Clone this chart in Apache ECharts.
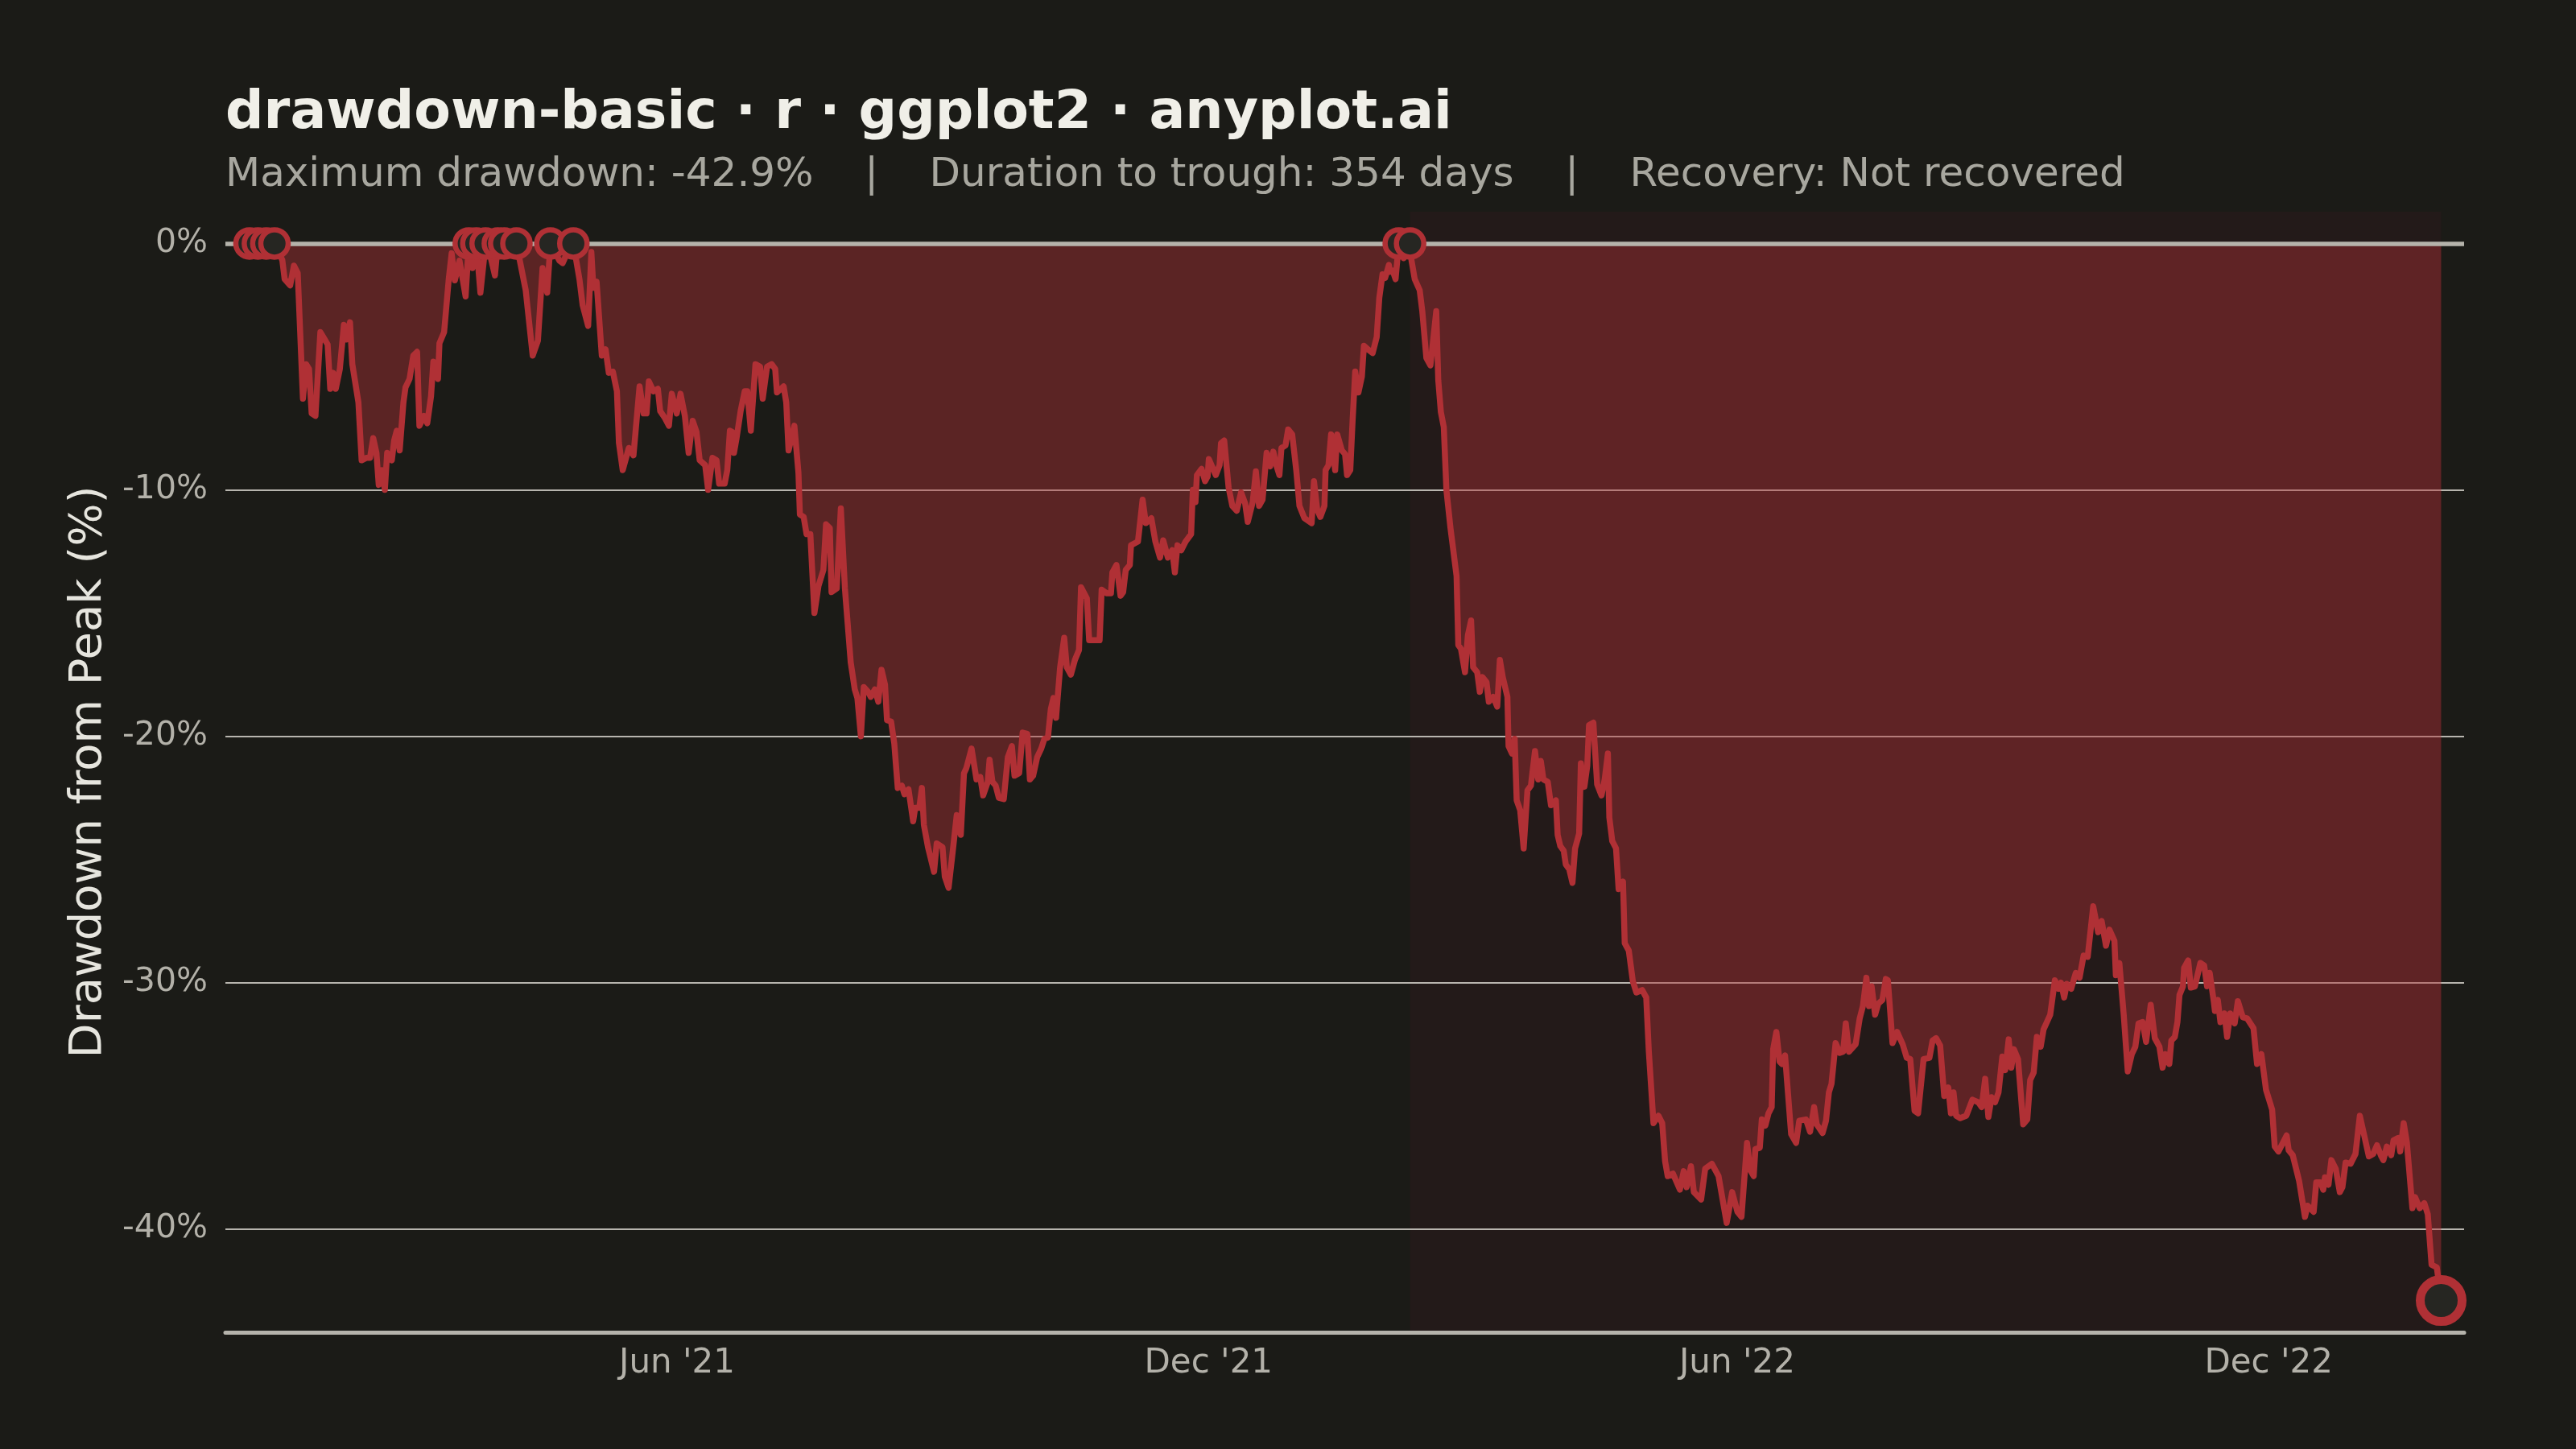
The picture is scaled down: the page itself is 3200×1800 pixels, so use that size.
<!DOCTYPE html>
<html>
<head>
<meta charset="utf-8">
<script src="https://cdn.jsdelivr.net/npm/echarts@6/dist/echarts.min.js"></script>
<style>
  html, body { margin: 0; padding: 0; background: #1b1b17; }
  #main { width: 3200px; height: 1800px; }
</style>
</head>
<body>
<div id="main"></div>
<script>
// days since 2021-01-04
var dayOffset = [
  0.8, 3.7, 6.6, 9.4, 12.1, 12.9, 14.8, 16.1, 17.4, 19.2,
  20.3, 21.3, 22.2, 23.5, 25.2, 26.7, 27.7, 28.6, 29.6, 30.5,
  31.9, 33.3, 34.2, 35.4, 36.2, 38.3, 39.4, 41.1, 42.3, 43.4,
  44.5, 45.3, 46.4, 47.4, 48.2, 49.8, 50.6, 51.5, 52.5, 53.8,
  54.5, 55.9, 57.2, 58.5, 59.3, 60.9, 62.0, 63.3, 64.1, 65.7,
  66.2, 67.8, 69.4, 70.4, 71.5, 73.1, 75.2, 76.3, 77.6, 78.9,
  80.3, 82.1, 83.9, 85.3, 86.3, 87.4, 88.5, 90.6, 92.7, 95.9,
  98.3, 100.1, 101.7, 103.3, 104.4, 107.5, 108.6, 110.5, 112.3, 114.4,
  115.5, 117.4, 118.5, 119.2, 120.3, 122.1, 123.4, 124.5, 125.9, 127.3,
  128.0, 129.3, 131.4, 133.0, 135.1, 136.5, 137.5, 138.3, 139.9, 141.4,
  142.2, 143.9, 145.2, 146.2, 147.9, 149.2, 150.7, 152.0, 153.4, 154.7,
  155.8, 157.7, 158.7, 160.2, 161.6, 162.5, 164.4, 165.3, 166.2, 167.0,
  167.6, 168.5, 169.9, 171.3, 172.2, 173.4, 175.0, 176.6, 177.5, 179.0,
  180.6, 181.8, 182.4, 184.7, 185.6, 186.4, 188.4, 189.8, 190.3, 191.6,
  192.6, 193.9, 195.3, 196.7, 198.4, 199.3, 200.6, 201.2, 203.0, 204.4,
  205.8, 207.8, 209.2, 210.1, 211.3, 212.3, 213.8, 214.7, 216.1, 217.3,
  218.4, 219.6, 220.3, 221.7, 222.8, 224.0, 225.4, 226.3, 227.7, 229.3,
  230.0, 231.4, 232.3, 233.0, 234.4, 236.5, 237.4, 239.4, 240.2, 241.5,
  242.9, 244.3, 245.7, 246.8, 247.6, 249.4, 251.1, 252.4, 253.4, 255.0,
  255.6, 256.6, 257.7, 258.8, 260.5, 261.9, 263.3, 264.2, 265.8, 267.0,
  268.6, 269.5, 270.6, 272.0, 273.4, 274.5, 275.7, 276.7, 277.6, 278.5,
  279.9, 281.3, 282.2, 283.6, 285.0, 286.4, 287.1, 289.1, 289.9, 291.9,
  293.5, 294.2, 296.0, 297.4, 297.9, 299.3, 300.7, 301.6, 302.5, 303.9,
  304.3, 306.7, 308.3, 309.4, 311.3, 312.7, 314.3, 315.4, 317.0, 318.5,
  319.4, 320.3, 321.6, 323.1, 325.0, 325.6, 326.5, 327.0, 328.6, 329.8,
  330.7, 331.1, 333.5, 334.8, 335.3, 336.4, 337.9, 339.2, 340.7, 342.2,
  343.6, 344.5, 346.2, 347.3, 348.4, 349.6, 351.0, 352.2, 353.3, 354.2,
  355.4, 356.1, 357.5, 358.4, 359.8, 361.2, 362.3, 364.0, 366.5, 367.3,
  368.4, 369.5, 370.9, 371.3, 372.3, 373.2, 374.6, 375.3, 376.9, 378.0,
  378.7, 379.8, 380.6, 381.5, 382.6, 383.8, 384.5, 385.9, 387.5, 388.9,
  389.8, 390.9, 391.8, 393.1, 393.5, 394.4, 395.4, 396.5, 398.2, 400.4,
  400.9, 402.0, 403.7, 404.6, 406.0, 407.4, 408.1, 409.4, 410.1, 411.0,
  412.0, 412.9, 414.3, 416.4, 417.0, 417.9, 419.3, 420.3, 421.4, 422.1,
  423.5, 424.4, 425.3, 426.7, 427.5, 429.0, 430.4, 431.3, 432.3, 433.9,
  434.3, 435.5, 436.4, 437.1, 438.3, 439.5, 440.8, 442.0, 443.4, 444.5,
  445.4, 446.3, 447.8, 448.9, 450.6, 451.2, 452.1, 453.3, 454.0, 455.2,
  456.3, 457.2, 458.6, 459.2, 460.4, 461.4, 462.0, 463.5, 464.8, 466.3,
  467.4, 468.5, 469.0, 470.0, 471.3, 472.2, 473.7, 474.3, 475.7, 477.1,
  478.3, 480.3, 481.7, 482.6, 484.2, 485.9, 487.2, 488.2, 489.1, 490.9,
  493.3, 494.6, 495.6, 497.1, 498.1, 500.6, 502.0, 504.3, 506.6, 508.0,
  509.4, 511.3, 513.1, 514.5, 516.4, 517.5, 518.7, 519.3, 520.8, 521.5,
  522.7, 523.8, 524.9, 525.4, 526.5, 527.6, 528.4, 529.5, 531.6, 533.3,
  534.4, 536.7, 538.1, 539.5, 540.4, 542.4, 543.6, 544.6, 545.5, 546.9,
  548.3, 549.5, 550.4, 551.5, 553.8, 555.2, 556.3, 557.5, 558.4, 559.3,
  560.5, 561.6, 563.0, 564.2, 564.9, 566.5, 568.1, 570.0, 571.4, 572.6,
  574.1, 575.3, 577.2, 579.2, 580.3, 581.5, 582.9, 584.3, 585.7, 586.6,
  587.5, 588.4, 589.8, 591.9, 594.0, 596.0, 597.2, 598.4, 599.5, 600.6,
  601.8, 603.0, 604.3, 605.3, 606.5, 607.4, 608.3, 609.7, 611.5, 612.9,
  613.9, 615.1, 616.2, 617.5, 618.5, 620.8, 622.4, 623.7, 624.5, 625.6,
  626.5, 628.0, 629.6, 630.9, 632.3, 633.7, 635.6, 637.3, 638.5, 640.0,
  641.2, 642.9, 643.4, 644.6, 646.1, 647.5, 648.9, 650.1, 651.2, 652.6,
  653.8, 655.4, 656.8, 658.4, 659.5, 660.4, 661.8, 662.5, 663.7, 664.6,
  665.3, 666.5, 666.9, 668.3, 669.2, 670.6, 672.5, 673.8, 674.8, 675.7,
  677.1, 677.5, 678.5, 679.4, 680.8, 681.7, 682.8, 684.3, 685.4, 687.1,
  688.6, 690.8, 692.0, 693.5, 695.1, 697.2, 698.1, 699.4, 702.2, 702.9,
  704.3, 706.5, 708.5, 709.4, 711.5, 712.4, 713.9, 714.8, 715.4, 716.6,
  717.6, 719.1, 720.5, 721.4, 722.5, 724.2, 725.9, 727.4, 729.0, 730.5,
  732.0, 733.3, 734.8, 735.5, 736.7, 738.2, 739.0, 740.6, 741.3, 742.5,
  743.6, 745.5, 746.4, 748.0, 749.6, 750.8, 752.1, 753.9, 755.4
];

// drawdown from running peak, %
var drawdownPct = [
  0, 0, 0, 0, -0.68, -1.45, -1.7, -0.9, -1.2, -6.3,
  -4.9, -5.1, -6.9, -7.0, -3.6, -3.9, -4.1, -5.9, -5.25, -5.9,
  -5.1, -3.3, -3.9, -3.2, -4.9, -6.45, -8.8, -8.7, -8.7, -7.9,
  -8.5, -9.8, -9.2, -10.0, -8.5, -8.8, -8.0, -7.6, -8.4, -6.45,
  -5.85, -5.5, -4.55, -4.4, -7.4, -7.0, -7.3, -6.2, -4.8, -5.5,
  -4.05, -3.6, -1.45, -0.4, -1.5, -0.7, -2.15, 0, -1.0, 0,
  -2.0, 0, -0.6, -1.3, 0, -0.5, 0, -0.4, 0, -1.9,
  -4.55, -3.95, -1.0, -2.0, 0, -0.7, -0.8, -0.3, 0, -1.45,
  -2.5, -3.35, -0.35, -1.8, -1.55, -4.55, -4.3, -5.25, -5.2, -6.0,
  -8.1, -9.2, -8.3, -8.6, -5.8, -6.9, -6.9, -5.6, -6.0, -5.9,
  -6.8, -7.1, -7.4, -6.1, -6.9, -6.1, -7.0, -8.5, -7.2, -7.65,
  -8.8, -9.0, -10.0, -8.7, -8.8, -9.75, -9.75, -9.2, -7.6, -7.65,
  -8.5, -7.9, -6.8, -6.0, -6.0, -7.6, -4.9, -5.0, -6.3, -5.0,
  -4.9, -5.1, -6.05, -5.8, -6.45, -8.4, -7.4, -9.3, -11.0, -11.1,
  -11.8, -11.8, -15.0, -13.9, -13.25, -11.4, -11.55, -14.15, -14.0, -10.75,
  -14.0, -17.0, -18.1, -18.45, -20.0, -18.0, -18.2, -18.4, -18.1, -18.6,
  -17.3, -17.9, -19.35, -19.4, -20.3, -22.1, -22.0, -22.35, -22.15, -23.45,
  -22.9, -22.9, -22.1, -23.6, -24.5, -25.5, -24.35, -24.5, -25.7, -26.15,
  -24.7, -23.2, -24.0, -21.5, -21.3, -20.5, -21.75, -21.65, -22.4, -21.85,
  -20.95, -21.85, -22.0, -22.5, -22.55, -20.85, -20.4, -21.6, -21.5, -19.85,
  -19.9, -21.75, -21.6, -20.85, -20.5, -20.1, -20.05, -18.9, -18.45, -19.25,
  -17.2, -16.0, -17.2, -17.5, -16.9, -16.5, -13.95, -14.4, -16.1, -16.1,
  -16.1, -14.05, -14.2, -14.2, -13.35, -13.05, -14.3, -14.15, -13.25, -13.05,
  -12.25, -12.1, -10.4, -11.35, -11.15, -12.1, -12.75, -12.05, -12.75, -12.45,
  -13.35, -12.25, -12.45, -12.1, -11.8, -10.0, -10.5, -9.4, -9.15, -9.65,
  -9.45, -8.75, -9.4, -9.0, -8.1, -8.0, -9.9, -10.65, -10.85, -10.1,
  -10.55, -11.3, -10.5, -9.25, -10.65, -10.4, -8.5, -9.05, -8.45, -8.95,
  -9.4, -8.3, -8.2, -7.55, -7.75, -9.2, -10.65, -11.15, -11.35, -9.65,
  -10.8, -11.1, -10.65, -9.2, -9.0, -7.75, -9.2, -7.75, -8.4, -8.55,
  -9.4, -9.2, -7.2, -5.2, -6.05, -5.4, -4.15, -4.3, -4.45, -3.8,
  -2.2, -1.25, -1.4, -0.87, -1.15, -1.1, -1.45, 0, -0.6, 0,
  -0.7, -1.45, -1.9, -2.75, -4.65, -4.95, -4.2, -2.75, -5.55, -6.85,
  -7.45, -10.0, -11.55, -13.5, -16.3, -16.45, -17.4, -15.9, -15.3, -17.2,
  -17.4, -18.2, -17.6, -17.8, -18.6, -18.4, -18.8, -16.9, -17.6, -18.4,
  -20.4, -20.7, -20.1, -22.6, -23.0, -24.55, -22.2, -22.0, -20.6, -21.75,
  -21.0, -21.75, -21.85, -22.8, -22.6, -24.0, -24.45, -24.65, -25.2, -25.4,
  -25.95, -24.55, -23.95, -21.1, -22.05, -21.2, -19.55, -19.45, -21.95, -22.4,
  -21.75, -20.7, -23.3, -24.25, -24.55, -26.2, -25.9, -28.4, -28.7, -29.95,
  -30.4, -30.3, -30.6, -32.8, -35.7, -35.4, -35.7, -37.25, -37.85, -37.75,
  -38.4, -37.65, -38.3, -37.45, -38.5, -38.8, -37.55, -37.35, -37.85, -38.8,
  -39.75, -38.5, -39.3, -39.5, -36.5, -37.6, -37.85, -36.75, -36.7, -35.55,
  -35.8, -35.3, -35.05, -32.7, -32.0, -33.2, -33.3, -32.95, -36.15, -36.5,
  -35.6, -35.55, -36.05, -35.05, -35.75, -36.1, -35.6, -34.45, -34.1, -32.45,
  -32.85, -32.8, -31.65, -32.8, -32.5, -31.45, -30.95, -29.8, -30.95, -30.15,
  -31.3, -30.85, -30.7, -29.85, -29.9, -32.45, -32.0, -32.5, -33.05, -33.1,
  -35.2, -35.3, -33.1, -33.05, -32.35, -32.25, -32.55, -34.6, -34.25, -35.3,
  -34.45, -35.4, -35.5, -35.4, -34.75, -34.85, -35.05, -33.9, -35.45, -34.65,
  -34.85, -34.45, -33.0, -33.55, -32.3, -33.45, -32.7, -33.1, -35.75, -35.55,
  -33.95, -33.65, -32.2, -32.6, -31.9, -31.3, -29.9, -30.25, -30.0, -30.6,
  -30.05, -30.25, -29.6, -29.8, -28.9, -28.95, -26.9, -27.95, -27.5, -28.5,
  -27.85, -28.3, -29.7, -29.2, -31.3, -33.6, -32.9, -32.6, -31.65, -31.6,
  -32.4, -30.9, -32.25, -32.6, -33.45, -32.9, -33.3, -32.35, -32.2, -31.6,
  -30.5, -30.15, -29.4, -29.1, -30.2, -30.15, -29.2, -29.3, -30.15, -29.6,
  -30.75, -31.15, -30.7, -31.6, -31.25, -32.2, -31.25, -31.65, -30.75, -31.4,
  -31.45, -31.85, -33.3, -32.9, -34.35, -35.15, -36.65, -36.85, -36.2, -36.8,
  -37.0, -38.05, -39.5, -39.05, -39.3, -38.1, -38.1, -38.4, -37.9, -38.2,
  -37.2, -37.55, -38.5, -38.3, -37.3, -37.35, -36.95, -35.4, -36.25, -37.05,
  -36.95, -36.6, -37.05, -37.2, -36.65, -37.0, -36.4, -36.3, -36.85, -35.7,
  -36.5, -39.15, -38.7, -39.15, -38.95, -39.4, -41.45, -41.55, -42.9
];

var yTicks = [0, -10, -20, -30, -40];
var xTickDays = [148, 331, 513, 696];
var xTickLabels = ["Jun '21", "Dec '21", "Jun '22", "Dec '22"];
var xRange = [-7.5, 763.3];

var titleText = 'drawdown-basic \u00b7 r \u00b7 ggplot2 \u00b7 anyplot.ai';
var subtitleParts = ['Maximum drawdown: -42.9%', 'Duration to trough: 354 days', 'Recovery: Not recovered'];

var FONT = 'DejaVu Sans';
var RED = '#b03035';

var points = dayOffset.map(function (d, i) { return [d, drawdownPct[i]]; });

// trough = deepest point, peak = last zero before it
var troughIdx = 0;
drawdownPct.forEach(function (v, i) { if (v < drawdownPct[troughIdx]) troughIdx = i; });
var peakIdx = 0;
for (var i = 0; i < troughIdx; i++) { if (drawdownPct[i] === 0) peakIdx = i; }

var peakPoints = points.filter(function (p) { return p[1] === 0; });
var troughPoint = points[troughIdx];

var pad = Math.abs(drawdownPct[troughIdx]) * 0.03;

var myChart = echarts.init(document.getElementById('main'), null, { renderer: 'canvas' });

var option = {
  backgroundColor: '#1b1b17',
  animation: false,
  textStyle: { fontFamily: FONT },
  title: [
    {
      text: titleText,
      left: 280, top: 108, padding: 0,
      textStyle: { color: '#f0efe8', fontSize: 66.5, fontWeight: 'bold', fontFamily: FONT }
    },
    {
      text: subtitleParts.join('    |    '),
      left: 280, top: 193, padding: 0,
      textStyle: { color: '#a8a79f', fontSize: 50, fontWeight: 'normal', fontFamily: FONT }
    }
  ],
  grid: { left: 280, right: 139, top: 263, bottom: 145 },
  xAxis: {
    type: 'value',
    min: xRange[0],
    max: xRange[1],
    z: 3,
    splitLine: { show: false },
    axisTick: { show: false },
    axisLine: { show: true, onZero: false, lineStyle: { color: '#b5b3ab', width: 5 } },
    axisLabel: {
      customValues: xTickDays,
      color: '#b3b1a9',
      fontSize: 42,
      fontFamily: FONT,
      margin: 18,
      formatter: function (v) {
        var k = xTickDays.indexOf(v);
        return k >= 0 ? xTickLabels[k] : '';
      }
    }
  },
  yAxis: {
    type: 'value',
    min: drawdownPct[troughIdx] - pad,
    max: pad,
    splitLine: { show: false },
    axisTick: { show: false },
    axisLine: { show: false },
    axisLabel: {
      customValues: yTicks,
      color: '#b3b1a9',
      fontSize: 41,
      fontFamily: FONT,
      margin: 22,
      formatter: function (v) { return v + '%'; }
    },
    name: 'Drawdown from Peak (%)',
    nameLocation: 'middle',
    nameRotate: 90,
    nameGap: 142,
    nameTextStyle: { color: '#e6e5de', fontSize: 56, fontFamily: FONT }
  },
  series: [
    {
      // backdrop: drawdown window + grid lines
      type: 'line',
      data: points,
      showSymbol: false,
      silent: true,
      z: 1,
      lineStyle: { opacity: 0 },
      markArea: {
        silent: true,
        z: 0.5,
        itemStyle: { color: '#231a19' },
        data: [[{ xAxis: dayOffset[peakIdx] }, { xAxis: dayOffset[troughIdx] }]]
      },
      markLine: {
        silent: true,
        z: 1,
        symbol: ['none', 'none'],
        label: { show: false },
        lineStyle: { color: 'rgba(236,233,225,0.75)', width: 2, type: 'solid' },
        data: yTicks.filter(function (t) { return t !== 0; }).map(function (t) { return { yAxis: t }; })
      }
    },
    {
      type: 'line',
      data: points,
      showSymbol: false,
      z: 2,
      lineStyle: { color: RED, width: 7.5, join: 'round', cap: 'round' },
      areaStyle: { color: 'rgba(176,48,53,0.43)', opacity: 1 },
      markLine: {
        silent: true,
        z: 3,
        symbol: ['none', 'none'],
        label: { show: false },
        lineStyle: { color: '#b5b3ab', width: 5.5, type: 'solid' },
        data: [{ yAxis: 0 }]
      }
    },
    {
      type: 'scatter',
      data: peakPoints,
      z: 4,
      symbol: 'circle',
      symbolSize: 34,
      itemStyle: { color: '#262622', borderColor: RED, borderWidth: 6.5, opacity: 1 }
    },
    {
      type: 'scatter',
      data: [troughPoint],
      z: 4,
      symbol: 'circle',
      symbolSize: 52,
      itemStyle: { color: '#262622', borderColor: RED, borderWidth: 11, opacity: 1 }
    }
  ]
};

myChart.setOption(option);
</script>
</body>
</html>
